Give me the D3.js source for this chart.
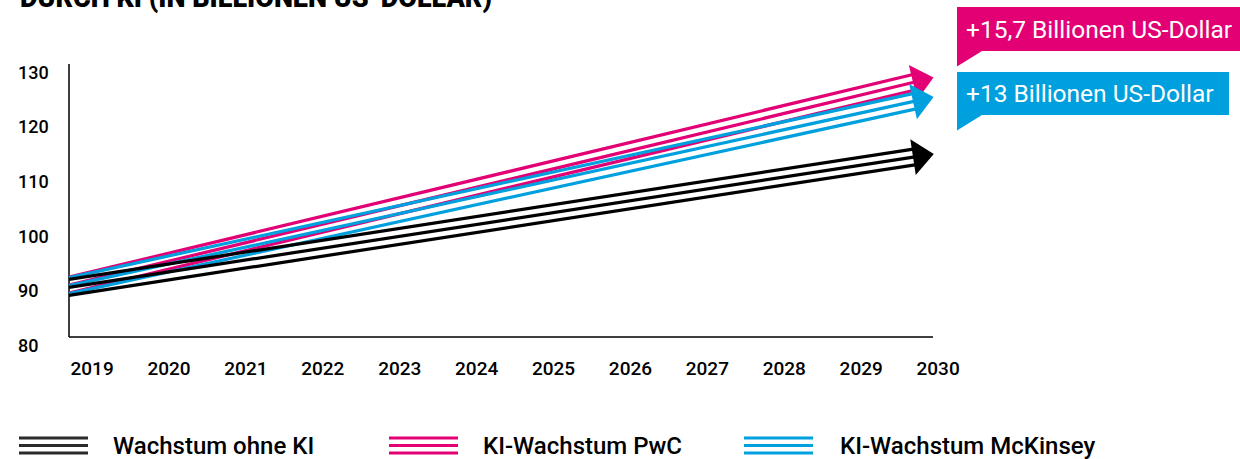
<!DOCTYPE html>
<html>
<head>
<meta charset="utf-8">
<script src="https://cdnjs.cloudflare.com/ajax/libs/d3/7.8.5/d3.min.js"></script>
<style>
	body { margin: 0; background: #fff; }
	svg { display: block; font-family: Roboto, 'Liberation Sans', sans-serif; }
</style>
</head>
<body>
<div class="chart"></div>
<script>
const years = [2019, 2020, 2021, 2022, 2023, 2024, 2025, 2026, 2027, 2028, 2029, 2030]
const yTicks = [80, 90, 100, 110, 120, 130]
const seriesYears = [2019, 2030]
const ohneKI = [89.1, 113.0]
const pwc = [89.5, 126.7]
const mckinsey = [89.4, 123.2]
const seriesNames = ['Wachstum ohne KI', 'KI-Wachstum PwC', 'KI-Wachstum McKinsey']
const calloutLabels = ['+15,7 Billionen US-Dollar', '+13 Billionen US-Dollar']
const titleText = 'DURCH KI (IN BILLIONEN US-DOLLAR)'

const width = 1240
const height = 459
const magenta = '#e20074'
const blue = '#00a0de'

const svg = d3.select('.chart')
	.append('svg')
	.attr('width', width)
	.attr('height', height)

const xScale = d3.scaleLinear().domain([2019, 2030]).range([69, 915])
const yScale = d3.scaleLinear().domain([80, 130]).range([337, 64])

// title, mostly cut off at the top
svg.append('text')
	.attr('x', 20)
	.attr('y', 6.5)
	.attr('font-size', 27)
	.attr('font-weight', 900)
	.attr('textLength', 472)
	.attr('lengthAdjust', 'spacingAndGlyphs')
	.text(titleText)

// y axis
const yAxis = svg.append('g')
	.attr('transform', 'translate(69,0)')
	.call(d3.axisLeft(yScale).tickValues(yTicks).tickSize(0))
yAxis.select('.domain').remove()
yAxis.selectAll('text')
	.attr('x', -51)
	.attr('y', 8.5)
	.attr('text-anchor', 'start')
	.attr('font-family', 'Roboto')
	.attr('font-size', 18)
	.attr('font-weight', 500)
	.attr('fill', '#000')

// x axis
const xAxis = svg.append('g')
	.attr('transform', 'translate(0,337)')
	.call(d3.axisBottom(xScale).tickValues(years).tickFormat(d3.format('d')).tickSize(0))
xAxis.select('.domain').remove()
xAxis.selectAll('text')
	.attr('x', 1)
	.attr('y', 38)
	.attr('dy', 0)
	.attr('text-anchor', 'start')
	.attr('font-family', 'Roboto')
	.attr('font-size', 19)
	.attr('font-weight', 500)
	.attr('fill', '#000')

svg.append('line')
	.attr('x1', xScale(2019)).attr('y1', yScale(130))
	.attr('x2', xScale(2019)).attr('y2', yScale(80))
	.attr('stroke', '#000').attr('stroke-width', 1.5)
svg.append('line')
	.attr('x1', xScale(2019)).attr('y1', yScale(80))
	.attr('x2', xScale(2030) + 18).attr('y2', yScale(80))
	.attr('stroke', '#000').attr('stroke-width', 1.5)

// triple line arrows
const series = [
	{ values: pwc, color: magenta },
	{ values: mckinsey, color: blue },
	{ values: ohneKI, color: '#000' }
]
const offsets = [-8, 0, 8]

const line = d3.line()
	.x((d, i) => xScale(seriesYears[i]))
	.y(d => yScale(d))

series.forEach(s => {
	const g = svg.append('g')
	g.selectAll('path.l')
		.data(offsets)
		.enter()
		.append('path')
		.attr('class', 'l')
		.attr('d', line(s.values))
		.attr('transform', d => 'translate(0,' + d + ')')
		.attr('fill', 'none')
		.attr('stroke', s.color)
		.attr('stroke-width', 3.2)

	const x0 = xScale(seriesYears[0]), y0 = yScale(s.values[0])
	const x1 = xScale(seriesYears[1]), y1 = yScale(s.values[1])
	const angle = Math.atan2(y1 - y0, x1 - x0) * 180 / Math.PI
	g.append('path')
		.attr('d', 'M-2,-18 L19,0 L-2,18 Z')
		.attr('transform', 'translate(' + x1 + ',' + y1 + ') rotate(' + angle + ')')
		.attr('fill', s.color)
})

// callouts
const callouts = [
	{ label: calloutLabels[0], color: magenta, top: 7, bottom: 51, right: 1240 },
	{ label: calloutLabels[1], color: blue, top: 72, bottom: 115, right: 1229 }
]
callouts.forEach(c => {
	svg.append('path')
		.attr('d', 'M957,' + c.top + ' H' + c.right + ' V' + c.bottom + ' H982 L957,' + (c.bottom + 15.5) + ' Z')
		.attr('fill', c.color)
	svg.append('text')
		.attr('x', 966)
		.attr('y', (c.top + c.bottom) / 2)
		.attr('dy', '0.35em')
		.attr('fill', '#fff')
		.attr('font-size', 24.5)
		.attr('font-weight', 400)
		.text(c.label)
})

// legend
const legendColors = ['#2b2b2b', magenta, blue]
const legendSymbolX = [19, 389, 744]
const legendTextX = [113, 483, 840]
seriesNames.forEach((name, i) => {
	const g = svg.append('g')
	g.selectAll('line')
		.data(offsets)
		.enter()
		.append('line')
		.attr('x1', legendSymbolX[i])
		.attr('x2', legendSymbolX[i] + 69)
		.attr('y1', d => 445.5 + d * 0.94)
		.attr('y2', d => 445.5 + d * 0.94)
		.attr('stroke', legendColors[i])
		.attr('stroke-width', 3)
	g.append('text')
		.attr('x', legendTextX[i])
		.attr('y', 454)
		.attr('font-size', 24)
		.attr('font-weight', 500)
		.attr('fill', '#000')
		.text(name)
})
</script>
</body>
</html>
